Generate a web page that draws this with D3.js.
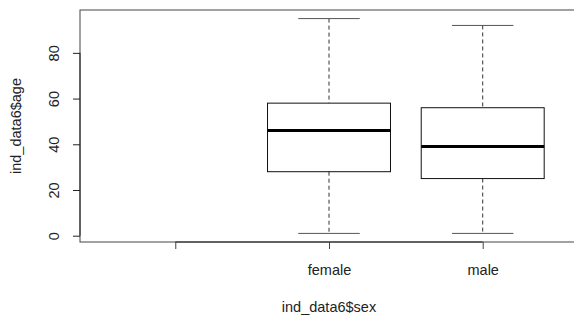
<!DOCTYPE html>
<html>
<head>
<meta charset="utf-8">
<script src="https://cdn.jsdelivr.net/npm/d3@7"></script>
<style>
  body { margin: 0; background: #fff; }
  svg text { font-family: "Liberation Sans", Arial, sans-serif; fill: #222; }
</style>
</head>
<body>
<div id="chart"></div>
<script>
// categories (first level is an empty string, no data)
const groups = ["", "female", "male"];
// five-number summaries
const lowerWhisker = [null, 1, 1];
const q1 = [null, 28, 25];
const median = [null, 46, 39];
const q3 = [null, 58, 56];
const upperWhisker = [null, 95, 92];
const yTicks = [0, 20, 40, 60, 80];

const width = 574, height = 320;
const plot = { left: 80, top: 10, right: 578, bottom: 242 };
const fontSize = "14.5px";

const svg = d3.select("#chart").append("svg")
  .attr("width", width)
  .attr("height", height);

// R style: xlim 0.5..n+0.5 extended by 4%
const x = d3.scaleLinear()
  .domain([0.38, groups.length + 0.62])
  .range([plot.left, plot.right]);
const y = d3.scaleLinear()
  .domain([-2.76, 98.76])
  .range([plot.bottom, plot.top]);

const boxW = x(1.8) - x(1);
const capW = boxW / 2;

// frame
svg.append("rect")
  .attr("x", plot.left).attr("y", plot.top)
  .attr("width", plot.right - plot.left)
  .attr("height", plot.bottom - plot.top)
  .attr("fill", "none").attr("stroke", "#444").attr("stroke-width", 1);

// y axis
const yAxis = svg.append("g")
  .attr("transform", `translate(${plot.left},0)`)
  .call(d3.axisLeft(y).tickValues(yTicks).tickSize(7).tickPadding(0).tickFormat(d3.format("d")));
yAxis.select(".domain").attr("d", `M0,${y(0)}V${y(80)}`).attr("stroke", "#222");
yAxis.selectAll(".tick line").attr("stroke", "#222");
yAxis.selectAll(".tick text")
  .attr("x", 0).attr("dy", null)
  .attr("transform", "rotate(-90) translate(0,-26)")
  .attr("text-anchor", "middle")
  .attr("dominant-baseline", "central")
  .style("font-size", fontSize);

// x axis
const xAxis = svg.append("g")
  .attr("transform", `translate(0,${plot.bottom})`)
  .call(d3.axisBottom(x).tickValues(groups.map((g, i) => i + 1)).tickSize(7).tickPadding(0)
    .tickFormat((d) => groups[d - 1]));
xAxis.select(".domain").attr("d", `M${x(1)},0H${x(groups.length)}`).attr("stroke", "#222");
xAxis.selectAll(".tick line").attr("stroke", "#444");
xAxis.selectAll(".tick text")
  .attr("y", 28).attr("dy", null)
  .attr("dominant-baseline", "central")
  .style("font-size", fontSize);

// boxes
const data = groups.map((g, i) => ({
  g, i: i + 1,
  lo: lowerWhisker[i], q1: q1[i], med: median[i], q3: q3[i], hi: upperWhisker[i]
})).filter((d) => d.med !== null);

const box = svg.append("g").selectAll("g").data(data).join("g");

// whiskers
box.append("line")
  .attr("x1", (d) => x(d.i)).attr("x2", (d) => x(d.i))
  .attr("y1", (d) => y(d.hi)).attr("y2", (d) => y(d.q3))
  .attr("stroke", "#333").attr("stroke-dasharray", "4,3");
box.append("line")
  .attr("x1", (d) => x(d.i)).attr("x2", (d) => x(d.i))
  .attr("y1", (d) => y(d.q1)).attr("y2", (d) => y(d.lo))
  .attr("stroke", "#333").attr("stroke-dasharray", "4,3");
// caps
box.selectAll(".cap").data((d) => [d, d].map((v, k) => ({ i: v.i, val: k ? v.lo : v.hi })))
  .join("line").attr("class", "cap")
  .attr("x1", (d) => x(d.i) - capW / 2).attr("x2", (d) => x(d.i) + capW / 2)
  .attr("y1", (d) => y(d.val)).attr("y2", (d) => y(d.val))
  .attr("stroke", "#555");
// box
box.append("rect")
  .attr("x", (d) => x(d.i) - boxW / 2)
  .attr("y", (d) => y(d.q3))
  .attr("width", boxW)
  .attr("height", (d) => y(d.q1) - y(d.q3))
  .attr("fill", "none").attr("stroke", "#111");
// median
box.append("line")
  .attr("x1", (d) => x(d.i) - boxW / 2).attr("x2", (d) => x(d.i) + boxW / 2)
  .attr("y1", (d) => y(d.med)).attr("y2", (d) => y(d.med))
  .attr("stroke", "#000").attr("stroke-width", 3);

// axis titles
svg.append("text")
  .attr("x", (plot.left + plot.right) / 2).attr("y", 307)
  .attr("text-anchor", "middle").attr("dominant-baseline", "central")
  .style("font-size", fontSize)
  .text("ind_data6$sex");
svg.append("text")
  .attr("transform", `translate(16,${(plot.top + plot.bottom) / 2}) rotate(-90)`)
  .attr("text-anchor", "middle").attr("dominant-baseline", "central")
  .style("font-size", fontSize)
  .text("ind_data6$age");
</script>
</body>
</html>
